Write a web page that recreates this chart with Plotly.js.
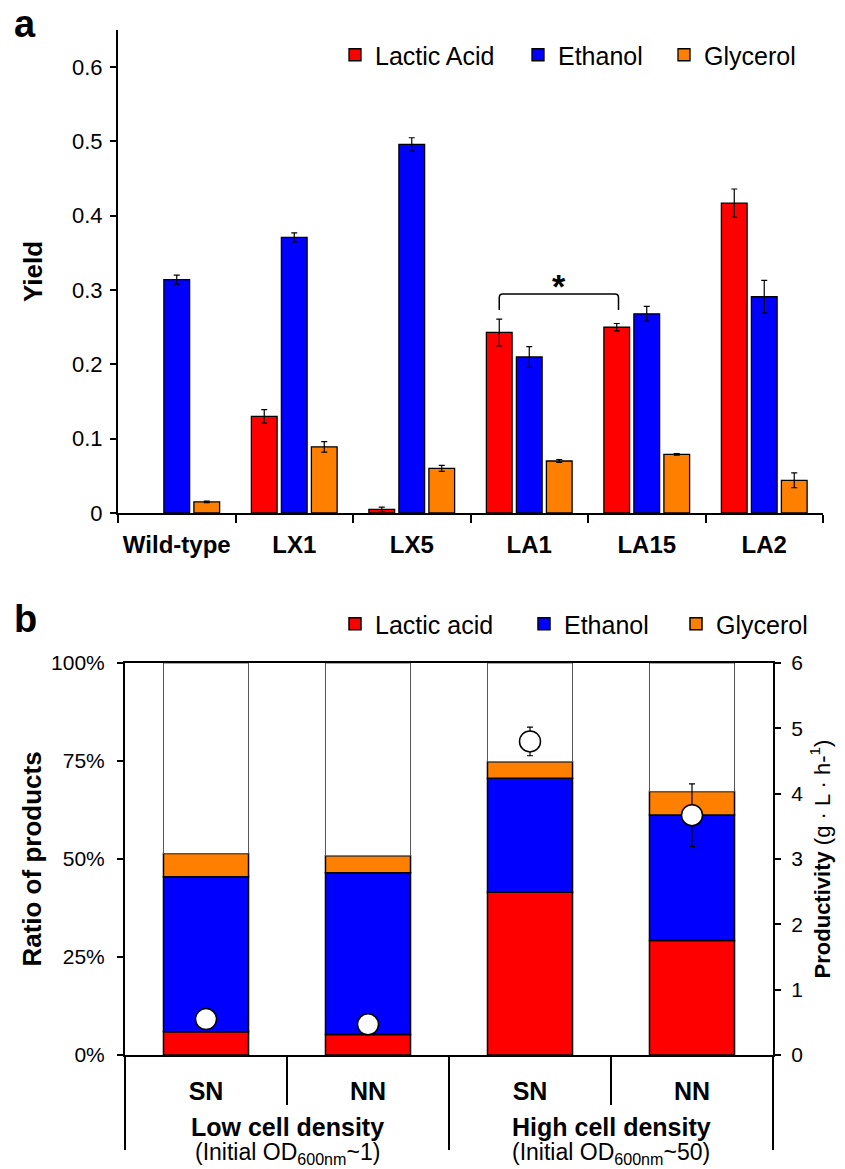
<!DOCTYPE html>
<html>
<head>
<meta charset="utf-8">
<script src="https://cdn.plot.ly/plotly-3.0.1.min.js"></script>
<style>html,body{margin:0;padding:0;background:#fff;}</style>
</head>
<body>
<div id="chart" style="width:845px;height:1169px;"></div>
<script>
// ---------- Panel a data ----------
const strains = ['Wild-type', 'LX1', 'LX5', 'LA1', 'LA15', 'LA2'];
const yieldLactic = [null, 0.130, 0.005, 0.243, 0.250, 0.417];
const errLactic = [0, 0.009, 0.003, 0.018, 0.005, 0.019];
const yieldEthanol = [0.314, 0.371, 0.496, 0.210, 0.268, 0.291];
const errEthanol = [0.006, 0.006, 0.009, 0.014, 0.010, 0.022];
const yieldGlycerol = [0.015, 0.089, 0.060, 0.070, 0.079, 0.044];
const errGlycerol = [0.001, 0.007, 0.004, 0.002, 0.001, 0.010];
const seriesNamesA = ['Lactic Acid', 'Ethanol', 'Glycerol'];

// ---------- Panel b data ----------
const conditions = ['SN', 'NN', 'SN', 'NN'];
const densityGroups = ['Low cell density', 'High cell density'];
const densityNotes = ['(Initial OD<sub>600nm</sub>~1)', '(Initial OD<sub>600nm</sub>~50)'];
const ratioLactic = [5.9, 5.2, 41.5, 29.2];
const ratioEthanol = [39.6, 41.3, 29.1, 32.0];
const ratioGlycerol = [5.9, 4.3, 4.2, 6.0];
const productivity = [0.55, 0.47, 4.80, 3.67];
const productivityErr = [0.05, 0.05, 0.22, 0.48];
const seriesNamesB = ['Lactic acid', 'Ethanol', 'Glycerol'];

const colors = ['#ff0000', '#0000ff', '#ff8000'];
const FONT = 'Liberation Sans, Arial, Helvetica, sans-serif';

// ---------- geometry ----------
const W = 845, H = 1169;
const M = {l: 118, r: 22, t: 30, b: 114};
const plotW = W - M.l - M.r, plotH = H - M.t - M.b;
const px2x = p => (p - M.l) / plotW;
const py2y = p => (H - M.b - p) / plotH;
const domA = [py2y(513), 1];
const domBx = [px2x(125), px2x(773)];
const domBy = [0, py2y(663)];
const BARGAP = 0.234, GROUPGAP = 0.143;

const traces = [];
// Panel a grouped bars
const yA = [yieldLactic, yieldEthanol, yieldGlycerol];
const eA = [errLactic, errEthanol, errGlycerol];
for (let k = 0; k < 3; k++) {
  traces.push({
    type: 'bar', x: strains, y: yA[k], name: seriesNamesA[k],
    xaxis: 'x', yaxis: 'y', legend: k === 0 ? 'legend' : 'legend' + (k + 1),
    marker: {color: colors[k], line: {color: '#000', width: 1.3}},
    error_y: {type: 'data', array: eA[k], visible: true, color: '#000', thickness: 1.2, width: 3},
    hoverinfo: 'skip'
  });
}

// Panel b stacked bars (base computed from the data)
const idx = conditions.map((c, i) => i);
const yB = [ratioLactic, ratioEthanol, ratioGlycerol];
const totals = idx.map(i => ratioLactic[i] + ratioEthanol[i] + ratioGlycerol[i]);
const remainder = totals.map(t => 100 - t);
const BW = 0.525;
let cum = idx.map(() => 0);
for (let k = 0; k < 3; k++) {
  traces.push({
    type: 'bar', x: idx, y: yB[k], base: cum.slice(), name: seriesNamesB[k],
    xaxis: 'x2', yaxis: 'y2', legend: 'legend' + (k + 4),
    width: BW, offset: -BW / 2,
    marker: {color: colors[k], line: {color: '#000', width: 1.5}},
    hoverinfo: 'skip'
  });
  cum = cum.map((c, i) => c + yB[k][i]);
}
traces.push({
  type: 'bar', x: idx, y: remainder, base: totals, showlegend: false,
  xaxis: 'x2', yaxis: 'y2', width: BW, offset: -BW / 2,
  marker: {color: '#fff', line: {color: '#555', width: 1}}, hoverinfo: 'skip'
});
traces.push({
  type: 'scatter', mode: 'markers', x: idx, y: productivity, showlegend: false,
  xaxis: 'x2', yaxis: 'y3', cliponaxis: false,
  marker: {symbol: 'circle', size: 21, color: '#fff', line: {color: '#000', width: 1.5}},
  error_y: {type: 'data', array: productivityErr, color: '#000', thickness: 1.2, width: 3},
  hoverinfo: 'skip'
});

// legends (positioned by where each entry's text starts)
const legendA = [377, 560, 706], legendB = [377, 566, 718];
const legends = {};
const mkLegend = (tx, cy) => ({
  x: px2x(tx - 42), y: py2y(cy), xanchor: 'left', yanchor: 'middle',
  orientation: 'h', bgcolor: 'rgba(0,0,0,0)', borderwidth: 0,
  font: {family: FONT, size: 25, color: '#000'}
});
legendA.forEach((tx, k) => { legends[k === 0 ? 'legend' : 'legend' + (k + 1)] = mkLegend(tx, 55); });
legendB.forEach((tx, k) => { legends['legend' + (k + 4)] = mkLegend(tx, 624); });

// shapes
const shapes = [];
const redOff = -(1 - BARGAP) / 3;
const bx0 = 3 + redOff, bx1 = 4 + redOff + 0.015;
const yt = 0.2946, yb = 0.2733, rx = 0.03, ry = 0.005;
shapes.push({
  type: 'path', xref: 'x', yref: 'y', line: {color: '#000', width: 1.5},
  path: `M${bx0},${yb} L${bx0},${yt - ry} Q${bx0},${yt} ${bx0 + rx},${yt} L${bx1 - rx},${yt} Q${bx1},${yt} ${bx1},${yt - ry} L${bx1},${yb}`
});
// panel b x-axis dividers at category boundaries
const nC = conditions.length;
const xAt = b => domBx[0] + b / nC * (domBx[1] - domBx[0]);
const shortY = -(1105 - 1055) / plotH, longY = -(1150 - 1055) / plotH;
for (let b = 0; b <= nC; b++) {
  const isGroup = b % 2 === 0;
  shapes.push({type: 'line', xref: 'paper', yref: 'paper', x0: xAt(b), x1: xAt(b),
    y0: 0, y1: isGroup ? longY : shortY, line: {color: '#000', width: 2}});
}

// annotations
const annotations = [
  {text: '<b>*</b>', x: (bx0 + bx1) / 2, y: 0.305, xref: 'x', yref: 'y', showarrow: false,
   xanchor: 'center', yanchor: 'middle', font: {family: FONT, size: 34, color: '#000'}},
  {text: '<b>a</b>', x: px2x(12), y: py2y(24), xref: 'paper', yref: 'paper', showarrow: false,
   xanchor: 'left', yanchor: 'middle', font: {family: FONT, size: 38, color: '#000'}},
  {text: '<b>b</b>', x: px2x(12), y: py2y(619), xref: 'paper', yref: 'paper', showarrow: false,
   xanchor: 'left', yanchor: 'middle', font: {family: FONT, size: 38, color: '#000'}}
];
densityGroups.forEach((g, j) => {
  const cx = domBx[0] + (j + 0.5) / densityGroups.length * (domBx[1] - domBx[0]);
  annotations.push({text: '<b>' + g + '</b>', x: cx, y: py2y(1127), xref: 'paper', yref: 'paper',
    showarrow: false, xanchor: 'center', yanchor: 'middle', font: {family: FONT, size: 25, color: '#000'}});
  annotations.push({text: densityNotes[j], x: cx, y: py2y(1153), xref: 'paper', yref: 'paper',
    showarrow: false, xanchor: 'center', yanchor: 'middle', font: {family: FONT, size: 23, color: '#000'}});
});

const axisCommon = {showgrid: false, zeroline: false, showline: true, linecolor: '#000', linewidth: 2,
  tickcolor: '#000', tickwidth: 2, automargin: false};

const layout = Object.assign({
  width: W, height: H, margin: M,
  paper_bgcolor: '#fff', plot_bgcolor: '#fff',
  font: {family: FONT, color: '#000'},
  barmode: 'group', bargap: BARGAP, bargroupgap: GROUPGAP,
  showlegend: true,
  xaxis: Object.assign({}, axisCommon, {domain: [0, 1], anchor: 'y', type: 'category',
    ticks: 'outside', tickson: 'boundaries', ticklen: 8, ticklabelstandoff: 9, tickangle: 0,
    tickfont: {family: FONT, size: 24, weight: 'bold'}}),
  yaxis: Object.assign({}, axisCommon, {domain: domA, anchor: 'x', range: [0, 0.65],
    tick0: 0, dtick: 0.1, ticks: 'outside', ticklen: 6, ticklabelstandoff: 3,
    tickfont: {family: FONT, size: 22},
    title: {text: '<b>Yield</b>', font: {family: FONT, size: 26}, standoff: 22}}),
  xaxis2: Object.assign({}, axisCommon, {domain: domBx, anchor: 'y2', range: [-0.5, 3.5],
    tickmode: 'array', tickvals: idx, ticktext: conditions.map(c => '<b>' + c + '</b>'),
    ticks: '', mirror: true, ticklabelstandoff: 13, tickangle: 0, tickfont: {family: FONT, size: 25}}),
  yaxis2: Object.assign({}, axisCommon, {domain: domBy, anchor: 'x2', range: [0, 100],
    tick0: 0, dtick: 25, ticksuffix: '%', ticks: 'outside', ticklen: 6, ticklabelstandoff: 8,
    tickfont: {family: FONT, size: 21},
    title: {text: '<b>Ratio of products</b>', font: {family: FONT, size: 26}, standoff: 2}}),
  yaxis3: Object.assign({}, axisCommon, {overlaying: 'y2', side: 'right', anchor: 'x2',
    range: [0, 6], tick0: 0, dtick: 1, ticks: 'outside', ticklen: 6, ticklabelstandoff: 6,
    tickfont: {family: FONT, size: 21},
    title: {text: '<b>Productivity</b> (g · L · h-<sup>1</sup>)', font: {family: FONT, size: 22}, standoff: 12}}),
  shapes: shapes, annotations: annotations
}, legends);

Plotly.newPlot('chart', traces, layout, {staticPlot: true, displayModeBar: false});
</script>
</body>
</html>
